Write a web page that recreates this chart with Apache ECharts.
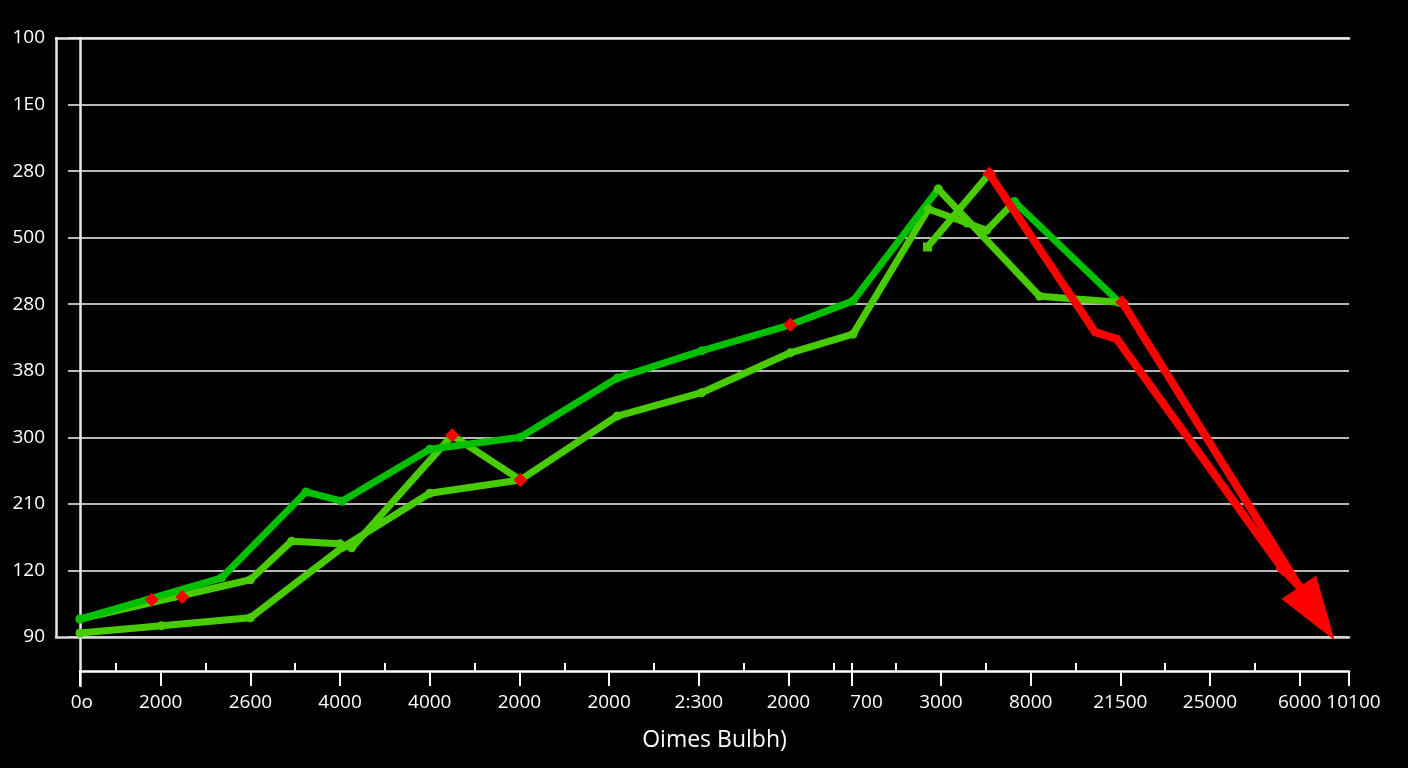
<!DOCTYPE html>
<html><head><meta charset="utf-8">
<script src="https://cdn.jsdelivr.net/npm/echarts@6/dist/echarts.min.js"></script>
<style>html,body{margin:0;padding:0;background:#000}#c{width:1408px;height:768px}</style>
</head><body><div id="c"></div>
<script>
// y tick labels, bottom to top
const yLabels = ["90","120","210","300","380","280","500","280","1E0","100"];
// x axis ticks / labels
const xTickPos = [0,0.9,1.9,2.9,3.9,4.9,5.9,6.9,7.9,8.6,9.6,10.6,11.6,12.6,13.6,14.15];
const xLabelPos = [0.02,0.9,1.9,2.9,3.9,4.9,5.9,6.9,7.9,8.77,9.6,10.6,11.6,12.6,13.6,14.15];
const xLabels = ["0o","2000","2600","4000","4000","2000","2000","2:300","2000","700","3000","8000","21500","25000","6000","10100"];
const xMinorPos = [0.4,1.4,2.4,3.4,4.4,5.4,6.4,7.4,8.4,8.6,9.1,10.1,11.1,12.1,13.1];
const xTitle = "Oimes Bulbh)";

// series values
const darkGreen = [[0,0.27],[1.58,0.89],[2.52,2.18],[2.92,2.04],[3.90,2.82],[4.91,3.00],[5.99,3.89],[6.93,4.30],[7.92,4.69],[8.62,5.05],[9.57,6.73]];
const darkGreenTail = [[10.42,6.54],[11.59,5.03]];
const lightGreenA = [[0,0.27],[1.90,0.86],[2.36,1.44],[2.90,1.40],[3.03,1.34],[4.15,3.03],[4.91,2.36],[5.99,3.32],[6.93,3.67],[7.92,4.27],[8.62,4.55],[9.46,6.43],[9.89,6.22],[10.11,6.11],[10.42,6.54]];
const lightGreenB = [[0,0.06],[0.91,0.17],[1.90,0.29],[2.93,1.35],[3.90,2.16],[4.91,2.36]];
const lightGreenC = [[9.45,5.86],[10.14,6.96]];
const lightGreenD = [[9.57,6.73],[10.70,5.12],[11.59,5.03]];
const redA = [[10.14,6.96],[11.32,4.58],[11.56,4.48],[13.41,1.02],[13.6,0.75]];
const redB = [[11.62,5.03],[13.6,0.75]];
const redHead = [[13.79,0.35]];
const redMarks = [[0.80,0.56],[1.14,0.60],[4.15,3.03],[4.91,2.36],[7.92,4.69],[10.14,6.96],[11.62,5.03],[13.41,1.02]];

const DG = '#00c000', LG = '#48cc00', RED = '#ff0000';
const FONT = 'Open Sans';

function nearestIndex(v, pos){
  let bi = 0, bd = Infinity;
  pos.forEach((p,i)=>{const d=Math.abs(p-v); if(d<bd){bd=d;bi=i;}});
  return bi;
}

const chart = echarts.init(document.getElementById('c'), null, {renderer:'canvas'});
const XMAX = 14.15;
const gBase = {right:59, outerBoundsMode:'none', containLabel:false};
function hiddenX(gi){return {type:'value', gridIndex:gi, min:0, max:XMAX, show:false};}

function lineSeries(data, color, width, extra){
  return Object.assign({
    type:'line', xAxisIndex:0, yAxisIndex:0, data:data,
    symbol:'circle', symbolSize:9, showSymbol:true,
    lineStyle:{color:color, width:width, join:'round', cap:'round'},
    itemStyle:{color:color, opacity:1}, z:3, silent:true
  }, extra||{});
}

chart.setOption({
  backgroundColor:'#000',
  animation:false,
  grid:[
    Object.assign({left:80, top:38, bottom:131}, gBase),
    Object.assign({left:56, top:38, bottom:131}, gBase),
    Object.assign({left:68, top:38, bottom:131}, gBase),
    Object.assign({left:80, top:38, bottom:82}, gBase)
  ],
  xAxis:[
    {type:'value', gridIndex:0, min:0, max:XMAX, position:'bottom', offset:34,
     axisLine:{show:true, onZero:false, lineStyle:{color:'#fff', width:2.5}},
     axisTick:{show:true, customValues:xTickPos, length:15, inside:false, lineStyle:{color:'#fff', width:2}},
     axisLabel:{show:true, customValues:xLabelPos, color:'#fff', fontFamily:FONT, fontSize:19, margin:22,
       formatter:(v)=>{const i=nearestIndex(v, xLabelPos); return i===xLabels.length-1 ? '{r|'+xLabels[i]+'}' : xLabels[i];},
       rich:{r:{color:'#fff', fontFamily:FONT, fontSize:19, padding:[0,0,0,9]}}},
     splitLine:{show:false},
     name:xTitle, nameLocation:'middle', nameGap:58,
     nameTextStyle:{color:'#fff', fontFamily:FONT, fontSize:23}},
    {type:'value', gridIndex:0, min:0, max:XMAX, position:'bottom', offset:34,
     axisLine:{show:false, onZero:false},
     axisTick:{show:true, customValues:xMinorPos, length:8, inside:true, lineStyle:{color:'#fff', width:2}},
     axisLabel:{show:false}, splitLine:{show:false}},
    {type:'value', gridIndex:1, min:0, max:XMAX, position:'top',
     axisLine:{show:true, onZero:false, lineStyle:{color:'#e8e8e8', width:2.5}},
     axisTick:{show:false}, axisLabel:{show:false}, splitLine:{show:false}},
    {type:'value', gridIndex:1, min:0, max:XMAX, position:'bottom',
     axisLine:{show:true, onZero:false, lineStyle:{color:'#d8d8d8', width:2.5}},
     axisTick:{show:false}, axisLabel:{show:false}, splitLine:{show:false}},
    hiddenX(2),
    hiddenX(3)
  ],
  yAxis:[
    {type:'value', gridIndex:0, min:0, max:9, interval:1,
     axisLine:{show:false, onZero:false}, axisTick:{show:false}, splitLine:{show:false},
     axisLabel:{show:true, color:'#fff', fontFamily:FONT, fontSize:19, margin:35, align:'right',
       formatter:(v)=>yLabels[Math.round(v)]}},
    {type:'value', gridIndex:1, min:0, max:9, position:'left',
     axisLine:{show:true, onZero:false, lineStyle:{color:'#e8e8e8', width:2.5}},
     axisTick:{show:false}, axisLabel:{show:false}, splitLine:{show:false}},
    {type:'value', gridIndex:2, min:0, max:9, interval:1,
     axisLine:{show:false, onZero:false}, axisTick:{show:false}, axisLabel:{show:false},
     splitLine:{show:true, lineStyle:{color:'#b8b8b8', width:2}}},
    {type:'value', gridIndex:3, min:0, max:9, position:'left',
     axisLine:{show:true, onZero:false, lineStyle:{color:'#e8e8e8', width:2.5}},
     axisTick:{show:false}, axisLabel:{show:false}, splitLine:{show:false}}
  ],
  series:[
    lineSeries(lightGreenB, LG, 7),
    lineSeries(lightGreenA, LG, 7),
    lineSeries(darkGreen, DG, 7),
    lineSeries(darkGreenTail, DG, 7),
    lineSeries(lightGreenD, LG, 7),
    lineSeries([{value:lightGreenC[0], symbol:'rect', symbolSize:9}].concat(lightGreenC.slice(1)), LG, 7),
    lineSeries(redA, RED, 8, {z:4, symbolSize:8}),
    lineSeries(redB, RED, 8, {z:4, showSymbol:false}),
    {type:'scatter', xAxisIndex:0, yAxisIndex:0, data:redHead, symbol:'triangle',
     symbolSize:[42,64], symbolRotate:-146, itemStyle:{color:RED, opacity:1}, z:5, silent:true},
    {type:'scatter', xAxisIndex:0, yAxisIndex:0, data:redMarks, symbol:'diamond',
     symbolSize:14, itemStyle:{color:RED, opacity:1}, z:6, silent:true}
  ]
});
</script>
</body></html>
